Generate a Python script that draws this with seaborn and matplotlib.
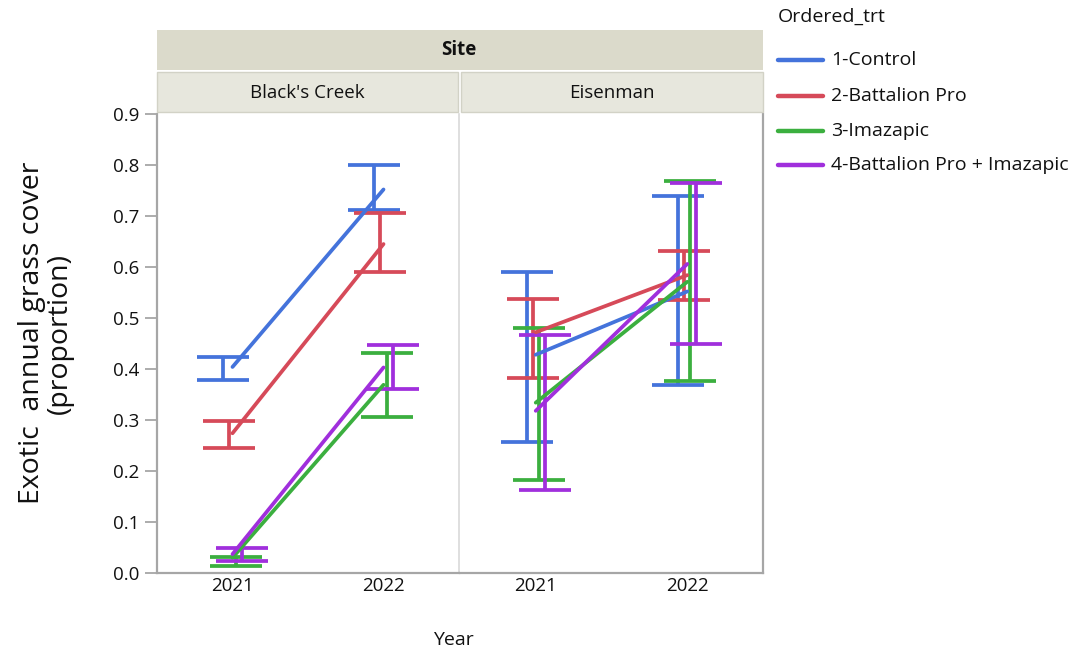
import numpy as np
import pandas as pd
import matplotlib
matplotlib.use("Agg")
import matplotlib.pyplot as plt
from matplotlib.lines import Line2D
from matplotlib.patches import Rectangle
import seaborn as sns

sns.set_style("white")
plt.rcParams['font.family'] = ['Open Sans', 'DejaVu Sans']
plt.rcParams['text.color'] = '#111111'
plt.rcParams['xtick.color'] = '#111111'
plt.rcParams['ytick.color'] = '#111111'

# ---------------- data ----------------
sites = ["Black's Creek", "Eisenman"]
years = ["2021", "2022"]
treatments = ["1-Control", "2-Battalion Pro", "3-Imazapic", "4-Battalion Pro + Imazapic"]
colors = ["#4473DB", "#D64A59", "#3BAF3F", "#A02FDC"]

# means, per site -> per treatment -> [2021, 2022]
bc_mean = [[0.404, 0.752], [0.274, 0.645], [0.030, 0.369], [0.037, 0.403]]
bc_low  = [[0.378, 0.712], [0.246, 0.591], [0.014, 0.306], [0.024, 0.361]]
bc_high = [[0.423, 0.800], [0.298, 0.705], [0.031, 0.432], [0.050, 0.448]]

ei_mean = [[0.428, 0.552], [0.472, 0.584], [0.334, 0.571], [0.318, 0.606]]
ei_low  = [[0.256, 0.369], [0.383, 0.535], [0.182, 0.377], [0.162, 0.450]]
ei_high = [[0.590, 0.740], [0.538, 0.632], [0.480, 0.769], [0.467, 0.764]]

y_ticks = [0.0, 0.1, 0.2, 0.3, 0.4, 0.5, 0.6, 0.7, 0.8, 0.9]

rows = []
for site, m, lo, hi in [(sites[0], bc_mean, bc_low, bc_high), (sites[1], ei_mean, ei_low, ei_high)]:
    for ti, trt in enumerate(treatments):
        for yi, yr in enumerate(years):
            rows.append(dict(Site=site, Year=yr, xpos=yi, trt=trt, ti=ti,
                             mean=m[ti][yi], low=lo[ti][yi], high=hi[ti][yi]))
df = pd.DataFrame(rows)

# ---------------- figure ----------------
W, H = 1081, 653
fig = plt.figure(figsize=(W / 100, H / 100), dpi=100)

def fx(px): return px / W
def fy(py): return 1 - py / H

ax_top, ax_bot = 114, 573
panels = [(157, 459), (460, 763)]
axes = []
axis_gray = "#a6a6a6"
sep_gray = "#d9d9d9"
dodge = 0.04
TICK_FS = 13.5

for i, (site, (x0, x1)) in enumerate(zip(sites, panels)):
    ax = fig.add_axes([fx(x0), fy(ax_bot), fx(x1) - fx(x0), fy(ax_top) - fy(ax_bot)])
    sub = df[df.Site == site]
    sns.lineplot(data=sub, x="xpos", y="mean", hue="trt", hue_order=treatments,
                 palette=colors, ax=ax, legend=False, linewidth=2.7, estimator=None,
                 errorbar=None, sort=True)
    for ti, trt in enumerate(treatments):
        s = sub[sub.trt == trt]
        off = (ti - 1.5) * dodge
        xs = s.xpos.values + off
        ax.errorbar(xs, s["mean"].values,
                    yerr=[s["mean"].values - s["low"].values, s["high"].values - s["mean"].values],
                    fmt="none", ecolor=colors[ti], elinewidth=2.7, capsize=18.5, capthick=2.7,
                    zorder=1)
    ax.set_xlim(-0.5, 1.5)
    ax.set_ylim(0, 0.9)
    ax.set_xticks([0, 1])
    ax.set_xticklabels(years, fontsize=TICK_FS)
    ax.tick_params(axis="x", length=0, pad=3)
    ax.set_xlabel("")
    ax.set_ylabel("")
    ax.spines["top"].set_visible(False)
    ax.spines["bottom"].set_color(axis_gray)
    ax.spines["bottom"].set_linewidth(1.6)
    if i == 0:
        ax.set_yticks(y_ticks)
        ax.set_yticklabels([f"{v:.1f}" for v in y_ticks], fontsize=TICK_FS)
        ax.tick_params(axis="y", length=9, width=1.3, color=axis_gray, left=True, pad=4)
        ax.spines["left"].set_color(axis_gray)
        ax.spines["left"].set_linewidth(1.6)
        ax.spines["right"].set_color(sep_gray)
        ax.spines["right"].set_linewidth(1.2)
    else:
        ax.set_yticks(y_ticks)
        ax.set_yticklabels([])
        ax.tick_params(axis="y", length=0)
        ax.spines["left"].set_visible(False)
        ax.spines["right"].set_color(axis_gray)
        ax.spines["right"].set_linewidth(1.6)
    axes.append(ax)

# strips
site_band = "#dbdacb"
panel_band = "#e7e7dd"
fig.patches.append(Rectangle((fx(157), fy(70)), fx(763) - fx(157), fy(30) - fy(70),
                             transform=fig.transFigure, facecolor=site_band, edgecolor="none"))
fig.text(fx(459), fy(50), "Site", ha="center", va="center", fontsize=13.5, fontweight="bold")
for site, (x0, x1) in zip(sites, [(157, 458), (461, 763)]):
    fig.patches.append(Rectangle((fx(x0), fy(112)), fx(x1) - fx(x0), fy(72) - fy(112),
                                 transform=fig.transFigure, facecolor=panel_band,
                                 edgecolor="#d2d2c6", linewidth=1.0))
    fig.text(fx((x0 + x1) / 2), fy(93), site, ha="center", va="center", fontsize=13.5)

# axis titles
fig.text(fx(46), fy(333), "Exotic  annual grass cover\n(proportion)", rotation=90,
         ha="center", va="center", fontsize=20.5, linespacing=1.0)
fig.text(fx(453), fy(640), "Year", ha="center", va="center", fontsize=14)

# legend (drawn as a key in figure space)
fig.text(fx(778), fy(17), "Ordered_trt", ha="left", va="center", fontsize=14)
legend_rows_y = [60, 96, 131, 165]
for trt, c, ry in zip(treatments, colors, legend_rows_y):
    fig.add_artist(Line2D([fx(778), fx(823)], [fy(ry), fy(ry)], color=c, lw=3.2,
                          transform=fig.transFigure))
    fig.text(fx(831), fy(ry), trt, ha="left", va="center", fontsize=14)

fig.savefig("out.png", dpi=100)
